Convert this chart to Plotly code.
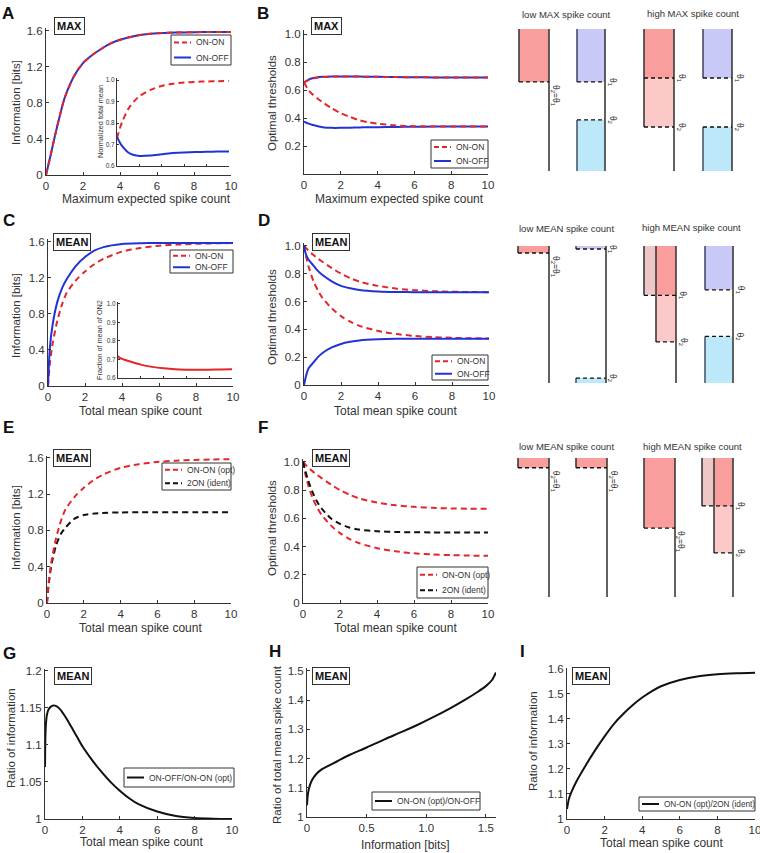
import plotly.graph_objects as go

W, H = 760, 853
FONT = "Liberation Sans, Arial, sans-serif"
RED = "#e3262b"
BLUE = "#2233d6"
BLACK = "#111111"
AX = "#333333"

# ---------------- data ----------------
# Panel A / B : maximum expected spike count
x_max = [0, 0.25, 0.5, 0.75, 1, 1.5, 2, 2.5, 3, 3.5, 4, 5, 6, 7, 8, 9, 10]
info_max_onon = [0, 0.22, 0.45, 0.66, 0.85, 1.09, 1.24, 1.33, 1.40, 1.46, 1.50, 1.55, 1.572, 1.581, 1.584, 1.585, 1.585]
info_max_onoff = [0, 0.22, 0.45, 0.66, 0.85, 1.09, 1.24, 1.33, 1.40, 1.46, 1.50, 1.55, 1.572, 1.581, 1.584, 1.585, 1.585]

x_inset_a = [0, 0.25, 0.5, 1, 1.5, 2, 3, 4, 5, 6, 7, 8, 9, 10]
norm_mean_onon = [0.73, 0.775, 0.81, 0.865, 0.9, 0.925, 0.955, 0.973, 0.983, 0.989, 0.992, 0.994, 0.995, 0.996]
norm_mean_onoff = [0.735, 0.71, 0.69, 0.663, 0.651, 0.647, 0.649, 0.655, 0.66, 0.663, 0.665, 0.666, 0.667, 0.667]

thr_max_onon_1 = [0.655, 0.672, 0.683, 0.69, 0.694, 0.697, 0.698, 0.698, 0.697, 0.696, 0.695, 0.693, 0.692, 0.691, 0.69, 0.69, 0.69]
thr_max_onon_2 = [0.655, 0.6, 0.565, 0.538, 0.515, 0.47, 0.435, 0.408, 0.385, 0.37, 0.36, 0.347, 0.342, 0.34, 0.34, 0.34, 0.34]
thr_max_onoff_1 = [0.655, 0.675, 0.686, 0.692, 0.695, 0.698, 0.698, 0.698, 0.697, 0.696, 0.695, 0.693, 0.692, 0.691, 0.69, 0.69, 0.69]
thr_max_onoff_2 = [0.375, 0.36, 0.35, 0.341, 0.335, 0.33, 0.33, 0.331, 0.333, 0.334, 0.335, 0.337, 0.338, 0.339, 0.34, 0.34, 0.34]

# Panels C-F : total mean spike count
x_mean = [0, 0.1, 0.25, 0.5, 0.75, 1, 1.5, 2, 2.5, 3, 4, 5, 6, 7, 8, 9, 10]
info_mean_onon = [0, 0.25, 0.47, 0.72, 0.9, 1.03, 1.17, 1.27, 1.35, 1.41, 1.49, 1.53, 1.555, 1.568, 1.577, 1.582, 1.585]
info_mean_onoff = [0, 0.42, 0.68, 0.93, 1.08, 1.18, 1.33, 1.43, 1.5, 1.54, 1.575, 1.583, 1.585, 1.585, 1.585, 1.585, 1.585]
info_mean_ident = [0, 0.22, 0.43, 0.64, 0.76, 0.83, 0.93, 0.97, 0.985, 0.993, 0.998, 1.0, 1.0, 1.0, 1.0, 1.0, 1.0]

x_inset_c = [0, 0.1, 0.5, 1, 2, 3, 4, 5, 6, 7, 8, 9, 10]
frac_mean_on2 = [0.72, 0.71, 0.7, 0.69, 0.672, 0.66, 0.652, 0.647, 0.645, 0.644, 0.645, 0.646, 0.647]

thr_mean_onon_1 = [1.0, 0.985, 0.965, 0.935, 0.908, 0.885, 0.84, 0.8, 0.768, 0.742, 0.712, 0.692, 0.681, 0.674, 0.67, 0.668, 0.667]
thr_mean_onon_2 = [1.0, 0.93, 0.85, 0.75, 0.68, 0.625, 0.55, 0.495, 0.455, 0.425, 0.388, 0.366, 0.352, 0.344, 0.339, 0.336, 0.334]
thr_mean_onoff_1 = [1.0, 0.94, 0.9, 0.86, 0.82, 0.79, 0.745, 0.712, 0.695, 0.683, 0.672, 0.668, 0.667, 0.667, 0.667, 0.667, 0.667]
thr_mean_onoff_2 = [0.0, 0.06, 0.12, 0.16, 0.2, 0.23, 0.27, 0.295, 0.31, 0.32, 0.328, 0.332, 0.333, 0.333, 0.333, 0.333, 0.333]
thr_mean_ident = [1.0, 0.95, 0.88, 0.79, 0.72, 0.67, 0.6, 0.56, 0.535, 0.52, 0.508, 0.503, 0.501, 0.5, 0.5, 0.5, 0.5]

# Panel G
x_g = [0, 0.02, 0.05, 0.1, 0.2, 0.3, 0.45, 0.6, 0.8, 1, 1.25, 1.5, 1.75, 2, 2.5, 3, 3.5, 4, 4.5, 5, 6, 7, 8, 9, 10]
ratio_info_onoff_onon = [1.07, 1.11, 1.128, 1.14, 1.148, 1.151, 1.153, 1.152, 1.148, 1.141, 1.131, 1.12, 1.109, 1.098,
                         1.08, 1.064, 1.05, 1.038, 1.028, 1.02, 1.01, 1.004, 1.0015, 1.0005, 1.0]
# Panel H
info_bits_h = [0, 0.005, 0.015, 0.04, 0.08, 0.12, 0.17, 0.25, 0.36, 0.5, 0.65, 0.8, 0.92, 1.05, 1.2, 1.32, 1.43, 1.5, 1.55, 1.585]
ratio_mean_count = [1.04, 1.07, 1.095, 1.125, 1.148, 1.162, 1.173, 1.19, 1.213, 1.238, 1.266, 1.292, 1.314, 1.34, 1.372,
                    1.4, 1.428, 1.448, 1.468, 1.495]
# Panel I
x_i = [0, 0.1, 0.25, 0.5, 1, 1.5, 2, 2.5, 3, 3.5, 4, 4.5, 5, 6, 7, 8, 9, 10]
ratio_info_opt_ident = [1.04, 1.08, 1.11, 1.15, 1.215, 1.275, 1.33, 1.38, 1.42, 1.455, 1.485, 1.51, 1.53, 1.555, 1.57,
                        1.578, 1.582, 1.584]

# Schematic thresholds (fraction of stimulus range)
sch_max_low_onon = 0.627
sch_max_low_onoff = [0.627, 0.36]
sch_max_high_onon = [0.655, 0.31]
sch_max_high_onoff = [0.655, 0.31]
sch_mean_low_onon = 0.949
sch_mean_low_onoff = [0.978, 0.036]
sch_mean_high_onon = [0.64, 0.30]
sch_mean_high_onoff = [0.68, 0.34]
sch_id_low_ident = 0.93
sch_id_low_opt = 0.93
sch_id_high_ident = 0.496
sch_id_high_opt = [0.655, 0.317]

# ---------------- figure ----------------
fig = go.Figure()
layout = {}
annotations = []
shapes = []


def ids(n):
    return ("x" if n == 1 else f"x{n}"), ("y" if n == 1 else f"y{n}")


def curve(n, x, y, color, dash=None, width=2):
    xa, ya = ids(n)
    fig.add_trace(go.Scatter(
        x=x, y=y, mode="lines", xaxis=xa, yaxis=ya,
        line=dict(color=color, width=width, dash=dash, shape="spline", smoothing=0.7),
        showlegend=False, hoverinfo="skip"))


def axes(n, xpx, ypx, xr, yr, xt, xtt, yt, ytt, fs=11.5, showx=True, ticklen=3):
    xa, ya = ids(n)
    xkey = "xaxis" if n == 1 else f"xaxis{n}"
    ykey = "yaxis" if n == 1 else f"yaxis{n}"
    common = dict(showline=True, linecolor=AX, linewidth=1, ticks="inside", ticklen=ticklen,
                  tickcolor=AX, showgrid=False, zeroline=False, fixedrange=True, automargin=False,
                  ticklabeloverflow="allow", tickfont=dict(size=fs, family=FONT, color=AX))
    layout[xkey] = dict(domain=[xpx[0] / W, xpx[1] / W], range=xr, anchor=ya,
                        tickmode="array", tickvals=xt, ticktext=xtt, showticklabels=showx, **common)
    layout[ykey] = dict(domain=[1 - ypx[1] / H, 1 - ypx[0] / H], range=yr, anchor=xa,
                        tickmode="array", tickvals=yt, ticktext=ytt, **common)


def hidden_axes(n, ypx):
    xa, ya = ids(n)
    layout[f"xaxis{n}"] = dict(domain=[0, 1], range=[0, W], anchor=ya, visible=False, fixedrange=True,
                               automargin=False)
    layout[f"yaxis{n}"] = dict(domain=[1 - ypx[1] / H, 1 - ypx[0] / H], range=[0, 1], anchor=xa,
                               visible=False, fixedrange=True, automargin=False)


def text(xp, yp, s, size=12, angle=0, bold=False, xanchor="center", yanchor="middle", color=AX):
    annotations.append(dict(x=xp / W, y=1 - yp / H, xref="paper", yref="paper", text=s, showarrow=False,
                            textangle=angle, xanchor=xanchor, yanchor=yanchor,
                            font=dict(size=size, family=FONT, color=color,
                                      weight="bold" if bold else "normal")))


def tag(x0, x1, y0, y1, s):
    annotations.append(dict(x=(x0 + x1) / 2 / W, y=1 - (y0 + y1) / 2 / H, xref="paper", yref="paper",
                            xanchor="center", yanchor="middle",
                            text="<b>" + s + "</b>", showarrow=False, bgcolor="white",
                            bordercolor=AX, borderwidth=1, borderpad=2,
                            font=dict(size=11, family=FONT, color="#111")))


def pline(x0, y0, x1, y1, color, width=1.0, dash=None):
    shapes.append(dict(type="line", xref="paper", yref="paper", x0=x0 / W, x1=x1 / W,
                       y0=1 - y0 / H, y1=1 - y1 / H, line=dict(color=color, width=width, dash=dash),
                       layer="above"))


def legend_box(x0, y0, x1, y1, entries, fs=8.5):
    shapes.append(dict(type="rect", xref="paper", yref="paper", x0=x0 / W, x1=x1 / W,
                       y0=1 - y1 / H, y1=1 - y0 / H, fillcolor="white",
                       line=dict(color=AX, width=1), layer="above"))
    rh = (y1 - y0) / len(entries)
    for i, (color, dash, label) in enumerate(entries):
        yc = y0 + (i + 0.5) * rh
        pline(x0 + 3, yc, x0 + 20, yc, color, width=2, dash=dash)
        text(x0 + 23, yc, label, size=fs, xanchor="left")


xt10 = [0, 2, 4, 6, 8, 10]
xtt10 = ["0", "2", "4", "6", "8", "10"]
yt16 = [0, 0.4, 0.8, 1.2, 1.6]
ytt16 = ["0", "0.4", "0.8", "1.2", "1.6"]
yt10 = [0, 0.2, 0.4, 0.6, 0.8, 1.0]
ytt10 = ["0", "0.2", "0.4", "0.6", "0.8", "1.0"]
yt_in = [0.6, 0.7, 0.8, 0.9, 1.0]
ytt_in = ["0.6", "0.7", "0.8", "0.9", "1.0"]
DASH = "6px,4px"
LDASH = "5px,3px"

# Panel A
axes(1, (46, 231), (28, 175), [0, 10], [0, 1.63], xt10, xtt10, yt16, ytt16)
curve(1, x_max, info_max_onoff, BLUE)
curve(1, x_max, info_max_onon, RED, dash=DASH)
legend_box(171, 35, 231, 65, [(RED, LDASH, "ON-ON"), (BLUE, None, "ON-OFF")])
# inset A
axes(2, (117, 229), (78, 166), [0, 10], [0.6, 1.01], [2, 4, 6, 8], None, yt_in, ytt_in, fs=6.5,
     showx=False, ticklen=2)
curve(2, x_inset_a, norm_mean_onon, RED, dash=DASH)
curve(2, x_inset_a, norm_mean_onoff, BLUE)

# Panel B
axes(3, (304, 488), (30, 174), [0, 10], [0, 1.03], xt10, xtt10, [0.2, 0.4, 0.6, 0.8, 1.0],
     ["0.2", "0.4", "0.6", "0.8", "1.0"])
curve(3, x_max, thr_max_onoff_1, BLUE)
curve(3, x_max, thr_max_onoff_2, BLUE)
curve(3, x_max, thr_max_onon_1, RED, dash=DASH)
curve(3, x_max, thr_max_onon_2, RED, dash=DASH)
legend_box(431, 140, 488, 168, [(RED, LDASH, "ON-ON"), (BLUE, None, "ON-OFF")])

# Panel C
axes(4, (48, 233), (239, 386), [0, 10], [0, 1.63], xt10, xtt10, yt16, ytt16)
curve(4, x_mean, info_mean_onon, RED, dash=DASH)
curve(4, x_mean, info_mean_onoff, BLUE)
legend_box(170, 250, 233, 273, [(RED, LDASH, "ON-ON"), (BLUE, None, "ON-OFF")])
axes(5, (118, 232), (302, 378), [0, 10], [0.6, 1.01], [2, 4, 6, 8], None, yt_in, ytt_in, fs=6.5,
     showx=False, ticklen=2)
curve(5, x_inset_c, frac_mean_on2, RED)

# Panel D
axes(6, (304, 489), (243, 385), [0, 10], [0, 1.02], xt10, xtt10, yt10, ytt10)
curve(6, x_mean, thr_mean_onon_1, RED, dash=DASH)
curve(6, x_mean, thr_mean_onon_2, RED, dash=DASH)
curve(6, x_mean, thr_mean_onoff_1, BLUE)
curve(6, x_mean, thr_mean_onoff_2, BLUE)
legend_box(432, 355, 488, 380, [(RED, LDASH, "ON-ON"), (BLUE, None, "ON-OFF")])

# Panel E
axes(7, (47, 231), (456, 603), [0, 10], [0, 1.62], xt10, xtt10, yt16, ytt16)
curve(7, x_mean, info_mean_ident, BLACK, dash=DASH)
curve(7, x_mean, info_mean_onon, RED, dash=DASH)
legend_box(162, 463, 231, 490, [(RED, LDASH, "ON-ON (opt)"), (BLACK, LDASH, "2ON (ident)")])

# Panel F
axes(8, (303, 488), (459, 603), [0, 10], [0, 1.02], xt10, xtt10, yt10, ytt10)
curve(8, x_mean, thr_mean_onon_1, RED, dash=DASH)
curve(8, x_mean, thr_mean_onon_2, RED, dash=DASH)
curve(8, x_mean, thr_mean_ident, BLACK, dash=DASH)
legend_box(417, 567, 488, 598, [(RED, LDASH, "ON-ON (opt)"), (BLACK, LDASH, "2ON (ident)")])

# Panel G
axes(9, (45, 232), (669, 819), [0, 10], [1, 1.202], xt10, xtt10, [1, 1.05, 1.1, 1.15, 1.2],
     ["1", "1.05", "1.1", "1.15", "1.2"])
curve(9, x_g, ratio_info_onoff_onon, BLACK)
legend_box(124, 768, 234, 787, [(BLACK, None, "ON-OFF/ON-ON (opt)")])

# Panel H
axes(10, (307, 496), (668, 817), [0, 1.585], [1, 1.51], [0, 0.5, 1.0, 1.5], ["0", "0.5", "1.0", "1.5"],
     [1, 1.1, 1.2, 1.3, 1.4, 1.5], ["1", "1.1", "1.2", "1.3", "1.4", "1.5"])
curve(10, info_bits_h, ratio_mean_count, BLACK)
legend_box(372, 792, 480, 810, [(BLACK, None, "ON-ON (opt)/ON-OFF")])

# Panel I
axes(11, (567, 755), (668, 819), [0, 10], [1, 1.603], xt10, xtt10, [1, 1.1, 1.2, 1.3, 1.4, 1.5, 1.6],
     ["1", "1.1", "1.2", "1.3", "1.4", "1.5", "1.6"])
curve(11, x_i, ratio_info_opt_ident, BLACK)
legend_box(639, 797, 755, 811, [(BLACK, None, "ON-ON (opt)/2ON (ident)")], fs=8.2)

# ---------------- schematics ----------------
C_RED = "#f99d9d"
C_LRED = "#fcc9c9"
C_PALE = "#efc6c6"
C_LAV = "#c9c9f7"
C_LBLUE = "#bde8f9"
EDGE = "#3a3a3a"


def rect(n, x0, x1, y0, y1, color):
    shapes.append(dict(type="rect", xref=f"x{n}", yref=f"y{n}", x0=x0, x1=x1, y0=y0, y1=y1,
                       fillcolor=color, line=dict(width=0), layer="below"))


def vline(n, x, y0, y1, color=EDGE, width=1.6):
    shapes.append(dict(type="line", xref=f"x{n}", yref=f"y{n}", x0=x, x1=x, y0=y0, y1=y1,
                       line=dict(color=color, width=width)))


def hdash(n, x0, x1, y):
    shapes.append(dict(type="line", xref=f"x{n}", yref=f"y{n}", x0=x0, x1=x1, y0=y, y1=y,
                       line=dict(color="#111", width=1.3, dash="4px,3px")))


def theta(n, x, y, s, top=False):
    annotations.append(dict(x=x, y=y, xref=f"x{n}", yref=f"y{n}", text=s, showarrow=False, textangle=90,
                            xanchor="center", yanchor="top" if top else "middle", yshift=-1 if top else 0,
                            font=dict(size=8.5, family=FONT, color="#222")))


T1 = "θ<sub>1</sub>"
T2 = "θ<sub>2</sub>"
T21 = "θ<sub>2</sub>=θ<sub>1</sub>"


def single_on(n, x0, x1, th, label=T21):
    rect(n, x0, x1, th, 1, C_RED)
    vline(n, x0, th, 1)
    vline(n, x1, 0, 1)
    hdash(n, x0, x1, th)
    theta(n, x1 + 6, th, label, top=True)


def onoff(n, x0, x1, th):
    rect(n, x0, x1, th[0], 1, C_LAV)
    rect(n, x0, x1, 0, th[1], C_LBLUE)
    vline(n, x0, th[0], 1, color="#4a4a6a")
    vline(n, x0, 0, th[1], color="#4a5a6a")
    vline(n, x1, 0, 1)
    hdash(n, x0, x1, th[0])
    hdash(n, x0, x1, th[1])
    theta(n, x1 + 7, th[0], T1)
    theta(n, x1 + 7, th[1], T2)


def onon_same(n, x0, x1, th):
    rect(n, x0, x1, th[0], 1, C_RED)
    rect(n, x0, x1, th[1], th[0], C_LRED)
    vline(n, x0, th[1], 1)
    vline(n, x1, 0, 1)
    hdash(n, x0, x1, th[0])
    hdash(n, x0, x1, th[1])
    theta(n, x1 + 7, th[0], T1)
    theta(n, x1 + 7, th[1], T2)


def onon_het(n, x0, xm, x1, th):
    rect(n, x0, xm, th[0], 1, C_PALE)
    rect(n, xm, x1, th[0], 1, C_RED)
    rect(n, xm, x1, th[1], th[0], C_LRED)
    vline(n, x0, th[0], 1)
    vline(n, xm, th[1], 1)
    vline(n, x1, 0, 1)
    hdash(n, x0, x1, th[0])
    hdash(n, xm, x1, th[1])
    theta(n, x1 + 7, th[0], T1)
    theta(n, x1 + 7, th[1], T2)


# row 1 (MAX)
hidden_axes(12, (29, 171))
single_on(12, 519, 549, sch_max_low_onon)
onoff(12, 577, 605, sch_max_low_onoff)
onon_same(12, 644, 674, sch_max_high_onon)
onoff(12, 703, 732, sch_max_high_onoff)
text(520, 15, "low MAX spike count", size=9.5, xanchor="left")
text(645, 14, "high MAX spike count", size=9.5, xanchor="left")

# row 2 (MEAN, ON-ON vs ON-OFF)
hidden_axes(13, (246, 383))
single_on(13, 518, 549, sch_mean_low_onon)
onoff(13, 576, 606, sch_mean_low_onoff)
onon_het(13, 644, 656, 676, sch_mean_high_onon)
onoff(13, 705, 733, sch_mean_high_onoff)
text(517, 229, "low MEAN spike count", size=9.5, xanchor="left")
text(640, 228, "high MEAN spike count", size=9.5, xanchor="left")

# row 3 (MEAN, ident vs opt)
hidden_axes(14, (458, 597))
single_on(14, 518, 549, sch_id_low_ident)
single_on(14, 576, 607, sch_id_low_opt)
single_on(14, 644, 675, sch_id_high_ident)
onon_het(14, 702, 714, 733, sch_id_high_opt)
text(517, 446, "low MEAN spike count", size=9.5, xanchor="left")
text(641, 446, "high MEAN spike count", size=9.5, xanchor="left")

# ---------------- labels ----------------
for s, xp, yp in [("A", 0, 2), ("B", 255, 2), ("C", 1, 209), ("D", 256, 209), ("E", 1, 416),
                  ("F", 256, 416), ("G", 1, 642), ("H", 267, 640), ("I", 518, 640)]:
    text(xp, yp, s, size=17, bold=True, xanchor="left", yanchor="top", color="#111")

text(146, 199, "Maximum expected spike count", size=12)
text(399, 199, "Maximum expected spike count", size=12)
text(140, 411, "Total mean spike count", size=12)
text(396, 411, "Total mean spike count", size=12)
text(140, 628, "Total mean spike count", size=12)
text(396, 628, "Total mean spike count", size=12)
text(141, 842, "Total mean spike count", size=12)
text(405, 845, "Information [bits]", size=12)
text(661, 843, "Total mean spike count", size=12)

text(16, 103, "Information [bits]", size=11.5, angle=-90)
text(272, 103, "Optimal thresholds", size=11.5, angle=-90)
text(16, 316, "Information [bits]", size=11.5, angle=-90)
text(272, 317, "Optimal thresholds", size=11.5, angle=-90)
text(16, 528, "Information [bits]", size=11.5, angle=-90)
text(272, 528, "Optimal thresholds", size=11.5, angle=-90)
text(11, 738, "Ratio of information", size=11.5, angle=-90)
text(277, 745, "Ratio of total mean spike count", size=11.5, angle=-90)
text(533, 741, "Ratio of information", size=11.5, angle=-90)
text(101, 122, "Normalized total mean", size=7.3, angle=-90)
text(99, 340, "Fraction of mean of ON2", size=7.3, angle=-90)

tag(50, 88, 17, 35, "MAX")
tag(308, 344, 17, 35, "MAX")
tag(51, 93, 233, 250, "MEAN")
tag(310, 352, 235, 250, "MEAN")
tag(52, 92, 449, 466, "MEAN")
tag(310, 352, 450, 466, "MEAN")
tag(52, 93, 667, 684, "MEAN")
tag(310, 352, 667, 684, "MEAN")
tag(570, 612, 667, 684, "MEAN")

fig.update_layout(**layout)
fig.update_layout(template="none", width=W, height=H, margin=dict(l=0, r=0, t=0, b=0, pad=0),
                  paper_bgcolor="white", plot_bgcolor="rgba(0,0,0,0)", showlegend=False,
                  annotations=annotations, shapes=shapes, font=dict(family=FONT, color=AX))
fig.write_html("out.html", config={"displayModeBar": False, "staticPlot": True},
               post_script="document.body.style.margin='0px';document.body.style.padding='0px';"
                           "document.body.style.overflow='hidden';")
